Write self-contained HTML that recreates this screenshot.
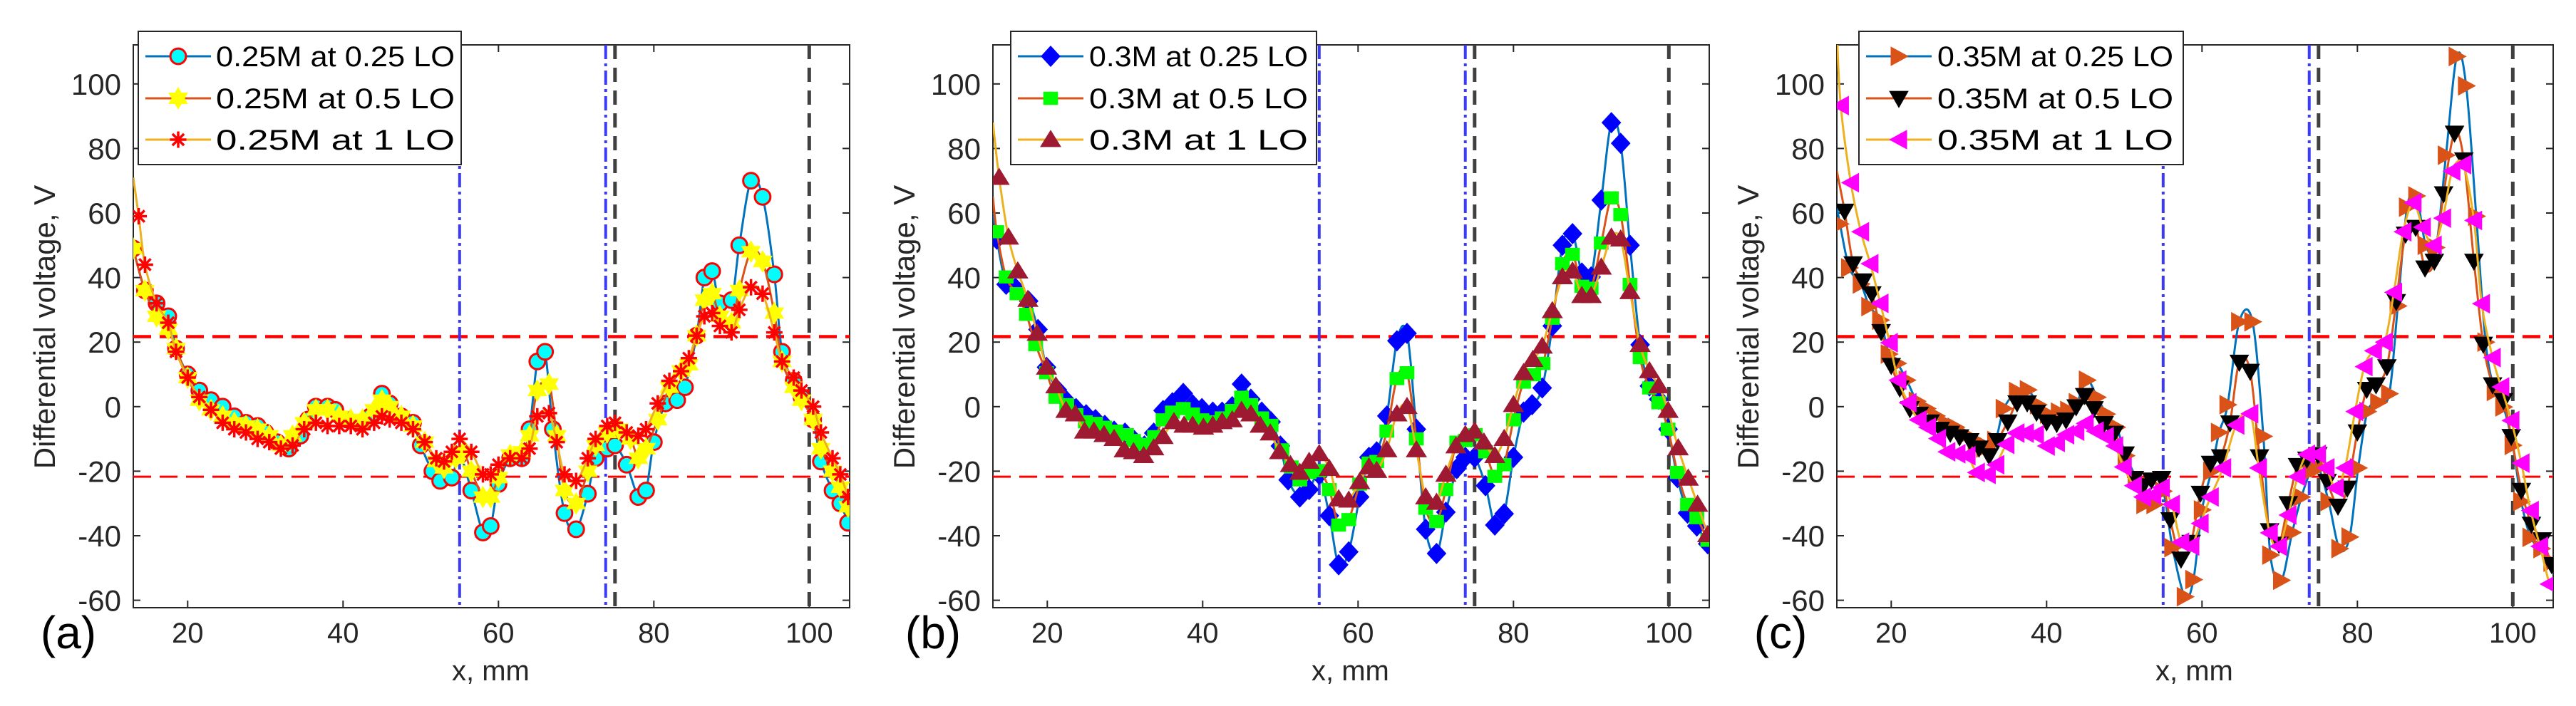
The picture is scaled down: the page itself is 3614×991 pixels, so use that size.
<!DOCTYPE html>
<html><head><meta charset="utf-8"><title>Differential voltage charts</title>
<style>
html,body{margin:0;padding:0;background:#fff;}
svg{display:block;font-family:"Liberation Sans",Arial,sans-serif;}
</style></head>
<body>
<svg id="fig" width="3614" height="991" viewBox="0 0 3614 991" xmlns="http://www.w3.org/2000/svg"></svg>
<script>
// ---------- data ----------
const xTicks = [20, 40, 60, 80, 100];
const yTicks = [-60, -40, -20, 0, 20, 40, 60, 80, 100];
const panelLetters = ["(a)", "(b)", "(c)"];
const thresholds = [21.7, -21.7];
const blueLines = [55, 73.8];
const blackLines = [75, 100];

const aNames = ["0.25M at 0.25 LO", "0.25M at 0.5 LO", "0.25M at 1 LO"];
const bNames = ["0.3M at 0.25 LO", "0.3M at 0.5 LO", "0.3M at 1 LO"];
const cNames = ["0.35M at 0.25 LO", "0.35M at 0.5 LO", "0.35M at 1 LO"];

const aStart = [49, 52, 71];
const bStart = [60, 65, 88];
const cStart = [62, 73, 116];

const aS1 = [[13,49],[14.5,36],[16,32],[17.5,28],[18.5,18],[20,10],[21.5,5],[23,2],[24.5,0],[26,-3],[27.5,-5],[29,-6],[30,-8],[31.5,-11],[33,-13],[34.5,-9],[35.5,-4],[36.5,0],[38,0],[39,-1],[40.5,-4],[42,-5],[43.5,-3],[45,4],[46,1],[47.5,-3],[49,-5],[50,-12],[51.5,-20],[52.5,-23],[54,-22],[55,-15],[56.5,-26],[58,-39],[59,-37],[60,-24],[61.5,-16],[63,-16],[64,-7],[65,14],[66,17],[67,-7],[68.5,-33],[70,-38],[71.5,-27],[72.5,-16],[74,-13],[75,-12],[76.5,-18],[78,-28],[79,-26],[80,-11],[81.5,1],[83,2],[84,6],[85.5,22],[86.5,40],[87.5,42],[88.5,32],[90,33],[91,50],[92.5,70],[94,65],[95.5,41],[96.5,17],[98,8],[99,3],[100.5,-4],[101.5,-17],[103,-26],[104,-30],[105,-36]];
const aS2 = [[13,49],[14.5,36],[16,28],[17.5,24],[18.5,18],[20,9],[21.5,2],[23,-1],[24.5,-3],[26,-5],[27.5,-6],[29,-7],[30.5,-9],[32,-12],[33.5,-9],[35,-5],[36.5,-1],[38,-1],[39.5,-3],[41,-4],[42.5,-4],[44,-1],[45,2],[46,0],[47.5,-3],[49,-6],[50.5,-11],[52,-17],[53,-19],[54.5,-16],[55.5,-14],[56.5,-20],[58,-28],[59,-28],[60,-22],[61.5,-15],[63,-14],[64,-9],[65,5],[66.5,7],[67.5,-9],[68.5,-26],[70,-30],[71.5,-20],[72.5,-12],[74,-8],[75.5,-7],[77,-10],[78,-16],[79,-13],[80.5,-4],[82,6],[83.5,11],[84.5,13],[85.5,22],[86.5,33],[87.5,35],[88.5,28],[90,26],[91,36],[92.5,48],[94,45],[95.5,29],[96.5,14],[98,6],[99,2],[100.5,-4],[101.5,-13],[103,-20],[104,-25],[105,-31]];
const aS3 = [[13.7,59],[14.5,44],[16,32],[17.5,26],[18.5,17],[20,9],[21.5,3],[23,-1],[24.5,-5],[26,-7],[27.5,-8],[29,-10],[30.5,-11],[32,-13],[33.5,-12],[35,-7],[36.5,-5],[38,-6],[39.5,-6],[41,-6],[42.5,-7],[44,-5],[45,-3],[46,-4],[47.5,-5],[49,-7],[50.5,-11],[52,-16],[53,-17],[54,-14],[55,-10],[56.5,-14],[58,-21],[59,-21],[60,-18],[61.5,-16],[63,-16],[64,-13],[65,-3],[66.5,-2],[67.5,-11],[68.5,-21],[70,-23],[71.5,-16],[72.5,-10],[74,-6],[75,-5],[76.5,-8],[78,-9],[79,-7],[80.5,1],[82,8],[83.5,11],[84.5,15],[85.5,22],[86.5,28],[87.5,29],[88.5,25],[90,23],[91,30],[92.5,37],[94,35],[95.5,23],[96.5,14],[98,9],[99,5],[100.5,0],[101.5,-8],[103,-16],[104,-21],[105,-28]];

const bS1 = [[13.5,51.9],[14.7,37.9],[15.9,36.7],[17.6,32.7],[18.8,23.9],[19.9,12.2],[21.3,5.2],[22.5,1.7],[23.7,-0.6],[25,-2.5],[26.2,-4],[27.4,-5.8],[28.6,-7.6],[30,-8.2],[31.2,-10.5],[32.5,-12.2],[33.7,-8.2],[34.9,-1.2],[36.1,1.2],[37.5,4.1],[38.7,0.6],[39.9,-0.6],[41.3,-1.7],[42.5,-1.7],[43.8,0],[45,7],[46.2,2.3],[47.6,-1.7],[48.8,-4.7],[50,-12.2],[51,-22.7],[52.5,-28],[53.7,-25.7],[55,-21],[56.3,-33.8],[57.5,-49],[58.8,-45],[60.2,-28],[61.4,-15.7],[62.4,-14],[63.7,-2.9],[65,20.4],[66.3,22.7],[67.5,-7],[68.7,-38],[70.1,-45.5],[71.3,-32.7],[72.7,-19.2],[73.8,-15.7],[75,-15.7],[76.4,-24.5],[77.6,-36.7],[78.8,-33.2],[80,-15.7],[81.3,-1.7],[82.4,0.6],[83.7,5.8],[85,25],[86.3,50],[87.6,53.6],[88.8,41.4],[90,40.2],[91.3,64],[92.6,88],[93.8,81.6],[95,50],[96.3,19.2],[97.5,6.4],[98.7,2.3],[99.9,-7],[101.1,-22],[102.4,-33],[103.6,-37],[105,-42.5]];
const bS2 = [[13.5,54.2],[14.7,40.2],[16.1,35],[17.3,28.6],[18.5,19.2],[19.9,10.5],[21.1,2.9],[22.5,0.6],[23.7,-2.5],[24.9,-4.7],[26.2,-5.2],[27.4,-6.4],[28.8,-7.6],[30.2,-8.7],[31.1,-10.5],[32.3,-11.7],[33.8,-9.3],[34.9,-4.1],[36.1,-1.7],[37.5,-0.6],[38.7,-2.3],[39.9,-4.1],[41.3,-4.7],[42.5,-3.5],[43.8,-1.2],[45,2.9],[46.2,0.6],[47.6,-3.5],[48.8,-5.8],[50.2,-13.4],[51.4,-18.7],[52.5,-22.7],[53.7,-20.4],[55,-19.8],[56.3,-25.7],[57.5,-36.7],[58.8,-35],[60.2,-24],[61.4,-17.5],[62.4,-17],[63.7,-7.6],[65,8.7],[66.3,10.5],[67.5,-10],[68.7,-31.5],[70.1,-35.6],[71.3,-25.7],[72.7,-11],[73.8,-10.5],[75.1,-8.7],[76.4,-14],[77.6,-21.6],[78.8,-18],[80,-4.1],[81.3,7.6],[82.6,9.9],[83.8,13.4],[85,27.4],[86.3,44.3],[87.6,47.2],[88.8,37.3],[90,36.7],[91.3,50.7],[92.6,64.7],[93.8,59.5],[95,37.9],[96.3,15.2],[97.5,5.8],[98.7,1.2],[99.9,-7],[101.1,-20.4],[102.4,-30.3],[103.6,-34.4],[105,-41.4]];
const bS3 = [[13.8,71],[15,52.5],[16.2,42],[17.5,33.2],[18.7,22.7],[19.9,12.2],[21.1,6.4],[22.4,-1.2],[23.6,-2.3],[24.8,-7.6],[26,-7.6],[27.3,-8.7],[28.6,-9.9],[29.9,-13.4],[31.1,-14],[32.4,-15.2],[33.7,-12.8],[34.9,-9.3],[36.3,-4.7],[37.6,-5.8],[38.7,-5.8],[40.1,-6.4],[41.3,-5.8],[42.5,-4.7],[43.8,-4.1],[45,-1.2],[46.2,-2.3],[47.4,-5.8],[48.7,-8.2],[49.9,-14],[51.3,-18],[52.5,-20.4],[53.7,-17],[55,-14.6],[56.3,-19.2],[57.5,-28.6],[58.8,-29],[60.2,-23.3],[61.4,-18.7],[62.4,-19.8],[63.7,-13.4],[65,-2.3],[66.3,0],[67.5,-13.4],[68.7,-28],[70.1,-29.7],[71.3,-21],[72.6,-12.2],[73.8,-8.7],[75,-7.6],[76.2,-11],[77.6,-15.2],[78.8,-9.9],[80,0.6],[81.3,10.5],[82.5,14.6],[83.7,18.7],[85,29.7],[86.3,40.2],[87.6,42],[88.8,34.4],[90,34.4],[91.3,43.2],[92.6,52.5],[93.8,51.9],[95,35.6],[96.3,19.2],[97.5,11.1],[98.7,6.4],[99.9,-1.2],[101.2,-12.8],[102.5,-22.2],[103.7,-30.3],[105,-39.7]];

const cS1 = [[13.4,56.6],[14.6,43],[16.1,38],[17.2,31],[18.6,26.8],[19.7,16.3],[20.8,13.4],[22,8.2],[23.3,1.7],[24.6,-0.6],[25.8,-2.9],[27.1,-5.2],[28.3,-6.4],[29.6,-8.7],[30.9,-10.5],[32,-12.8],[33.4,-10.5],[34.5,-0.6],[36.2,4.7],[37.6,5.2],[38.9,0.6],[40.2,-2.3],[41.6,-1.7],[42.8,-1.2],[43.9,1.2],[45.2,8.2],[46.5,2.9],[47.7,-2.3],[49,-6.4],[50.2,-15.2],[51.5,-22.2],[52.6,-30.3],[53.9,-30.3],[55,-26.2],[56.2,-43.7],[57.8,-58.9],[58.9,-53.6],[60,-32],[61.2,-20],[62.2,-8],[63.3,0.6],[64.8,26.3],[66.5,26.3],[67.9,-9.2],[68.8,-46],[70.2,-53.8],[71.6,-39],[72.8,-28],[74,-20],[75,-19],[76.3,-29.4],[77.7,-44],[79,-40.4],[80.1,-19],[81.3,-1.5],[82.7,1.3],[84.1,4],[85.2,31.2],[86.4,61.8],[87.6,65.3],[88.8,50],[90.1,49.3],[91.4,77.9],[92.8,108.5],[94,99.4],[95.3,59],[96.5,20],[97.7,4.7],[98.8,-0.1],[100,-12],[101.1,-29.4],[102.3,-40.5],[103.7,-44],[105,-48.2]];
const cS2 = [[14,60.6],[15.1,44.3],[16.4,39],[17.5,35],[18.7,23.3],[20,12.8],[21.1,5.8],[22.4,-0.6],[23.6,-2.3],[25,-4.7],[26.3,-7],[27.6,-8.2],[28.8,-9.3],[30.1,-10.5],[31.3,-12.8],[32.6,-15.2],[33.7,-10.5],[35,-4.7],[36.2,1.2],[37.5,1.2],[38.7,-1.7],[40,-4.7],[41.3,-5.2],[42.5,-4.1],[43.8,0],[44.9,3.5],[46.1,-0.6],[47.4,-5.2],[48.7,-8.2],[50.1,-14.6],[51.3,-22.2],[52.4,-24.5],[53.5,-22.7],[54.8,-22.2],[55.9,-35],[57.3,-47.2],[58.6,-42],[59.8,-26.8],[61.1,-17.5],[62.4,-15.5],[63.6,-5],[64.8,13.8],[66.2,11],[67.4,-15.5],[68.7,-38.4],[69.9,-42.6],[71.1,-30],[72.3,-18.2],[73.5,-16.2],[74.9,-14.8],[76.1,-23.1],[77.5,-30.8],[78.7,-25.2],[80,-7.8],[81.2,5.4],[82.4,6.8],[83.8,12.4],[85,32.6],[86.2,53.5],[87.5,55.6],[88.7,43],[89.9,45.1],[91.1,66],[92.5,84.8],[93.7,76.5],[95,45.1],[96.2,19.4],[97.4,6.8],[98.8,1.9],[99.8,-9.2],[101.1,-25.9],[102.4,-36.4],[103.8,-41.2],[105,-48.9]];
const cS3 = [[13.5,93.3],[14.8,69.4],[16.1,54.2],[17.3,44.3],[18.6,32],[19.8,19.8],[20.9,8.2],[22.2,1.2],[23.5,-4.1],[24.7,-6.4],[26,-9.9],[27.2,-14],[28.5,-14.6],[29.8,-15.2],[31,-20.4],[32.4,-21],[33.5,-18],[34.8,-11.7],[36.1,-8.2],[37.3,-8.2],[38.6,-8.7],[40,-12.2],[41.3,-11.1],[42.5,-8.7],[43.8,-7.6],[45,-5.2],[46.3,-7.6],[47.6,-9.3],[48.8,-12.2],[49.9,-18.7],[51.2,-24.5],[52.4,-28],[53.7,-27.4],[54.8,-25.1],[56.1,-30.3],[57.3,-42],[58.6,-43.2],[59.8,-36.2],[61.1,-28],[62.7,-19],[64.4,-5.7],[66.2,-2.2],[67.3,-19],[68.7,-39.1],[69.9,-43.3],[71.1,-33.6],[72.3,-21.7],[73.5,-14.8],[74.9,-14.8],[76,-19],[77.2,-25.2],[78.4,-19],[79.7,-1.5],[80.9,12.4],[82.1,17.3],[83.5,20],[84.7,35.4],[85.9,54.2],[87.2,63.2],[88.4,55.6],[89.8,50],[91,58.4],[92.2,73],[93.6,75],[95,57.7],[96,31.9],[97.4,15.2],[98.5,6.1],[99.8,-4.3],[101.1,-17.5],[102.3,-32.2],[103.5,-43.3],[104.7,-55]];

// ---------- layout ----------
const NS = "http://www.w3.org/2000/svg";
const svg = document.getElementById("fig");
const X_MIN = 13, X_MAX = 105.2, Y_MIN = -62.3, Y_MAX = 112.1;
const PLOT_TOP = 63, PLOT_BOTTOM = 853, PLOT_W = 1005;
const MS = 1.15;
const panels = [
  {left:187, names:aNames, series:[aS1,aS2,aS3], start:aStart, markers:["circle","hexagram","asterisk"], leg:{x:194,w:453,text:303,tw:335}, letterX:96},
  {left:1393, names:bNames, series:[bS1,bS2,bS3], start:bStart, markers:["diamond","square","triup"], leg:{x:1418,w:429,text:1528,tw:307}, letterX:1309},
  {left:2577, names:cNames, series:[cS1,cS2,cS3], start:cStart, markers:["triright","tridown","trileft"], leg:{x:2608,w:455,text:2718,tw:331}, letterX:2498}
];
const lineColors = ["#0072BD","#D95319","#EDB120"];

function el(tag, attrs, parent){
  const e = document.createElementNS(NS, tag);
  for (const k in attrs) e.setAttribute(k, attrs[k]);
  (parent||svg).appendChild(e);
  return e;
}
function yS(v){ return PLOT_BOTTOM - (v - Y_MIN) * (PLOT_BOTTOM - PLOT_TOP) / (Y_MAX - Y_MIN); }
function xS(p, v){ return p.left + (v - X_MIN) * PLOT_W / (X_MAX - X_MIN); }

function smoothPath(pts){
  let d = "M" + pts[0][0].toFixed(1) + "," + pts[0][1].toFixed(1);
  for (let i = 0; i < pts.length - 1; i++){
    const p0 = pts[Math.max(0,i-1)], p1 = pts[i], p2 = pts[i+1], p3 = pts[Math.min(pts.length-1,i+2)];
    const c1x = p1[0] + (p2[0]-p0[0])/6, c1y = p1[1] + (p2[1]-p0[1])/6;
    const c2x = p2[0] - (p3[0]-p1[0])/6, c2y = p2[1] - (p3[1]-p1[1])/6;
    d += " C" + c1x.toFixed(1)+","+c1y.toFixed(1)+" "+c2x.toFixed(1)+","+c2y.toFixed(1)+" "+p2[0].toFixed(1)+","+p2[1].toFixed(1);
  }
  return d;
}

function marker(type, cx, cy, parent){
  let m;
  const s = MS;
  if (type === "circle"){
    m = el("circle", {cx:cx, cy:cy, r:9.5*s, fill:"#00FFFF", stroke:"#FF0000", "stroke-width":3}, parent);
  } else if (type === "hexagram"){
    const r = 13*s, pts = [];
    for (let k = 0; k < 12; k++){ const a = -Math.PI/2 + k*Math.PI/6; const rr = k%2 ? r*0.58 : r; pts.push((cx+rr*Math.cos(a)).toFixed(1)+","+(cy+rr*Math.sin(a)).toFixed(1)); }
    m = el("polygon", {points:pts.join(" "), fill:"#FFFF00", stroke:"#FFFF00", "stroke-width":1}, parent);
  } else if (type === "asterisk"){
    let d = "";
    for (let k = 0; k < 4; k++){ const a = k*Math.PI/4; const dx = 10*s*Math.cos(a), dy = 10*s*Math.sin(a); d += "M"+(cx-dx).toFixed(1)+","+(cy-dy).toFixed(1)+"L"+(cx+dx).toFixed(1)+","+(cy+dy).toFixed(1); }
    m = el("path", {d:d, stroke:"#FF0000", "stroke-width":3.5, fill:"none"}, parent);
  } else if (type === "diamond"){
    m = el("polygon", {points:`${cx},${cy-13*s} ${cx+12*s},${cy} ${cx},${cy+13*s} ${cx-12*s},${cy}`, fill:"#0000FF"}, parent);
  } else if (type === "square"){
    m = el("rect", {x:cx-9*s, y:cy-8*s, width:18*s, height:16*s, fill:"#00FF00"}, parent);
  } else if (type === "triup"){
    m = el("polygon", {points:`${cx},${cy-12*s} ${cx+13*s},${cy+9*s} ${cx-13*s},${cy+9*s}`, fill:"#9E1A33"}, parent);
  } else if (type === "tridown"){
    m = el("polygon", {points:`${cx-12*s},${cy-9*s} ${cx+12*s},${cy-9*s} ${cx},${cy+12*s}`, fill:"#000000"}, parent);
  } else if (type === "triright"){
    m = el("polygon", {points:`${cx-10*s},${cy-12*s} ${cx+12*s},${cy} ${cx-10*s},${cy+12*s}`, fill:"#D95319"}, parent);
  } else if (type === "trileft"){
    m = el("polygon", {points:`${cx+10*s},${cy-12*s} ${cx-12*s},${cy} ${cx+10*s},${cy+12*s}`, fill:"#FF00FF"}, parent);
  }
  return m;
}

const defs = el("defs", {});
panels.forEach((p, pi) => {
  const cp = el("clipPath", {id:"clip"+pi}, defs);
  el("rect", {x:p.left, y:PLOT_TOP, width:PLOT_W, height:PLOT_BOTTOM-PLOT_TOP}, cp);

  const g = el("g", {});
  
  

  const box = el("rect", {x:p.left, y:PLOT_TOP, width:PLOT_W, height:PLOT_BOTTOM-PLOT_TOP, fill:"#fff", stroke:"#262626", "stroke-width":2}, g);
  
  

  xTicks.forEach(t => {
    const x = xS(p, t);
    el("line", {x1:x, y1:PLOT_BOTTOM, x2:x, y2:PLOT_BOTTOM-10, stroke:"#262626", "stroke-width":2}, g);
    el("line", {x1:x, y1:PLOT_TOP, x2:x, y2:PLOT_TOP+10, stroke:"#262626", "stroke-width":2}, g);
    const tl = el("text", {x:x, y:902, "font-size":40, "text-anchor":"middle", fill:"#262626"}, g);
    tl.textContent = t;
    
    
  });
  yTicks.forEach(t => {
    const y = yS(t);
    el("line", {x1:p.left, y1:y, x2:p.left+10, y2:y, stroke:"#262626", "stroke-width":2}, g);
    el("line", {x1:p.left+PLOT_W, y1:y, x2:p.left+PLOT_W-10, y2:y, stroke:"#262626", "stroke-width":2}, g);
    const tl = el("text", {x:p.left-17, y:y+15, "font-size":42, "text-anchor":"end", fill:"#262626"}, g);
    tl.textContent = t;
    
    
  });

  const inner = el("g", {"clip-path":"url(#clip"+pi+")"}, g);
  thresholds.forEach((v, i) => {
    const l = el("line", {x1:p.left, x2:p.left+PLOT_W, y1:yS(v), y2:yS(v), stroke:"#FF0000", "stroke-width": i===0 ? 4.5 : 3, "stroke-dasharray":"25,12"}, inner);
    
    
  });
  blueLines.forEach(v => {
    const l = el("line", {x1:xS(p,v), x2:xS(p,v), y1:PLOT_TOP, y2:PLOT_BOTTOM, stroke:"#3B3BF5", "stroke-width":4, "stroke-dasharray":"20,6,4,6"}, inner);
    
    
  });
  blackLines.forEach(v => {
    const l = el("line", {x1:xS(p,v), x2:xS(p,v), y1:PLOT_TOP, y2:PLOT_BOTTOM, stroke:"#404040", "stroke-width":5, "stroke-dasharray":"20,12"}, inner);
    
    
  });

  p.series.forEach((s, si) => {
    const pts = [[xS(p, X_MIN), yS(p.start[si])]].concat(s.map(d => [xS(p, d[0]), yS(d[1])]));
    const path = el("path", {d:smoothPath(pts), fill:"none", stroke:lineColors[si], "stroke-width":3}, inner);
    
    
    const mg = el("g", {}, inner);
    
    
    s.forEach(d => {
      const m = marker(p.markers[si], xS(p, d[0]), yS(d[1]), mg);
      
      
    });
  });

  const lg = el("g", {}, g);
  
  
  el("rect", {x:p.leg.x, y:44, width:p.leg.w, height:187, fill:"#fff", stroke:"#262626", "stroke-width":2}, lg);
  const rowsY = [79, 138, 196];
  p.names.forEach((n, i) => {
    const ent = el("g", {}, lg);
    
    
    const lx = p.leg.x + 10;
    el("line", {x1:lx, x2:lx+92, y1:rowsY[i], y2:rowsY[i], stroke:lineColors[i], "stroke-width":3}, ent);
    marker(p.markers[i], lx+46, rowsY[i], ent);
    const t = el("text", {x:p.leg.text, y:rowsY[i]+14, "font-size":40, fill:"#000", textLength:p.leg.tw, lengthAdjust:"spacingAndGlyphs"}, ent);
    t.textContent = n;
  });

  const yl = el("text", {x:0, y:0, "font-size":42, "text-anchor":"middle", fill:"#262626", transform:`translate(${p.left-110},459) rotate(-90)`}, g);
  yl.textContent = "Differential voltage, V";
  
  
  const xl = el("text", {x:xS(p, 59), y:955, "font-size":40, "text-anchor":"middle", fill:"#262626"}, g);
  xl.textContent = "x, mm";
  
  
  const lt = el("text", {x:p.letterX, y:910, "font-size":64, "text-anchor":"middle", fill:"#000"}, g);
  lt.textContent = panelLetters[pi];
  
  
});
</script>
</body></html>
